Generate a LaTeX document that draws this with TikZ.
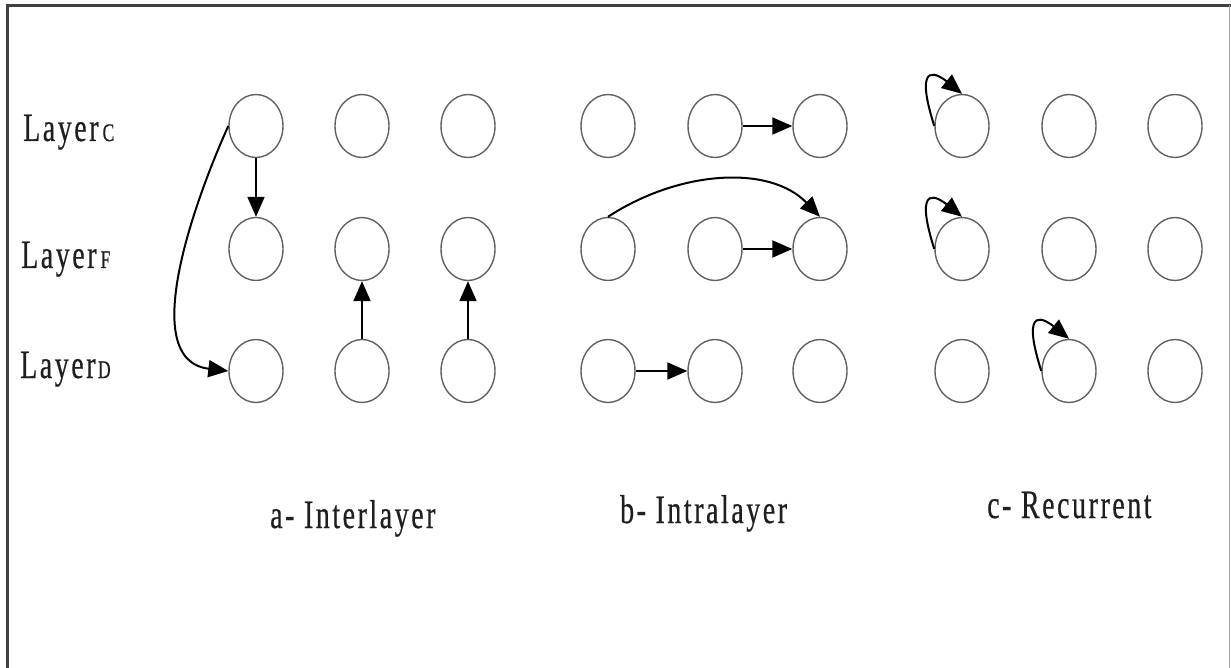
\documentclass[tikz,border=0pt]{standalone}
\usepackage{fontspec}
\setmainfont{Liberation Serif}
\usetikzlibrary{shapes.geometric,arrows.meta,calc}
\begin{document}
\begin{tikzpicture}[x=1pt,y=-1pt,
  unit/.style={ellipse,draw=black!62,line width=1.4pt,minimum width=54pt,minimum height=63pt,inner sep=0pt},
  link/.style={line width=2pt,-{Triangle[length=20pt,width=17pt]}},
  caption/.style={inner sep=0pt,anchor=base west,text=black!88,font=\fontsize{35}{40}\selectfont\addfontfeature{LetterSpace=9,FakeBold=0.6}},
  ]
\useasboundingbox (0,0) rectangle (1231,668);
\draw[line width=3pt,black!75] (7,668) -- (7,5.5) -- (1231,5.5);
\draw[line width=1pt,black!35] (1229.5,5.5) -- (1229.5,668);

\foreach \x [count=\i] in {256,362,468,608,715,820,962,1069,1175}{
  \foreach \y [count=\j] in {126,249,371}{
    \node[unit] (n\i\j) at (\x,\y) {};
  }
}

\node[caption] (lc) at (23,141) {\scalebox{0.8}[1.15]{Layer\hspace{5pt}{\fontsize{22}{22}\selectfont C}}};
\node[caption] (lf) at (21,268) {\scalebox{0.8}[1.15]{Layer\hspace{5pt}{\fontsize{22}{22}\selectfont F}}};
\node[caption] (ld) at (20,378) {\scalebox{0.8}[1.15]{Layer\hspace{3pt}{\fontsize{22}{22}\selectfont D}}};

\node[caption] (ca) at (270,528) {\scalebox{0.8}[1.15]{a- Interlayer}};
\node[caption] (cb) at (620,523) {\scalebox{0.8}[1.15]{b- Intralayer}};
\node[caption] (cc) at (987,518) {\scalebox{0.8}[1.15]{c- Recurrent}};

\draw[link] (n11.south) -- (n12.north);
\draw[link] (n11.west) .. controls ($(n11.west)+(-29,64)$) and ($(n13.west)+(-94,-11)$) .. (n13.west);
\draw[link] (n23.north) -- (n22.south);
\draw[link] (n33.north) -- (n32.south);
\draw[link] (n51.east) -- (n61.west);
\draw[link] (n52.east) -- (n62.west);
\draw[link] (n43.east) -- (n53.west);
\draw[link] (n42.north) .. controls ($(n42.north)+(72,-47)$) and ($(n62.north)+(-50,-52)$) .. (n62.north);
\foreach \n in {n71,n72,n83}{
  \draw[link] (\n.west) .. controls ($(\n.center)+(-50,-70)$) and ($(\n.center)+(-22,-50)$) .. (\n.north);
}
\end{tikzpicture}
\end{document}
